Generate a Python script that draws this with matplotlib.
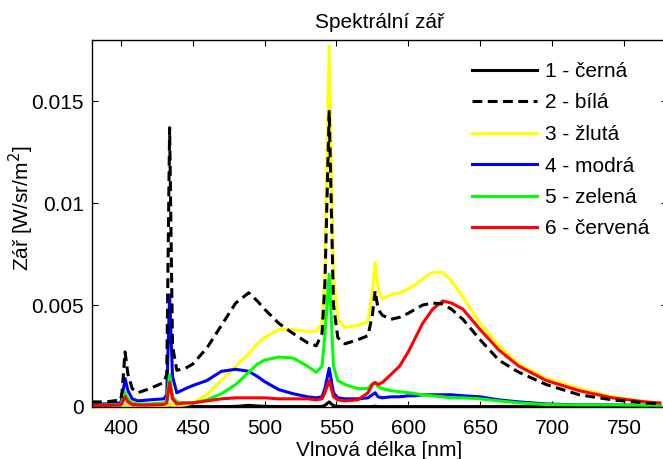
import matplotlib
matplotlib.use("Agg")
import matplotlib.pyplot as plt

plt.rcParams['font.family'] = ['Liberation Sans', 'DejaVu Sans']

SCALE = 1e-3  # values below are in units of 1e-3 W/sr/m^2

wavelength = [380, 390, 400, 401, 403, 405, 408, 412, 420, 430,
              432, 434, 436, 439, 445, 450, 460, 470, 480, 489,
              495, 500, 510, 520, 530, 536, 540, 542, 545, 548,
              551, 556, 565, 572, 575, 577, 579, 582, 588, 594,
              600, 605, 610, 617, 624, 630, 638, 650, 663, 677,
              696, 719, 742, 765, 775]

cerna = [0.02, 0.02, 0.02, 0.02, 0.05, 0.02, 0.02, 0.02, 0.02, 0.02,
         0.03, 0.12, 0.04, 0.02, 0.02, 0.02, 0.02, 0.02, 0.03, 0.08,
         0.05, 0.03, 0.02, 0.02, 0.02, 0.02, 0.03, 0.08, 0.25, 0.06,
         0.03, 0.02, 0.02, 0.02, 0.02, 0.04, 0.02, 0.02, 0.02, 0.02,
         0.02, 0.02, 0.02, 0.02, 0.02, 0.02, 0.02, 0.02, 0.02, 0.02,
         0.02, 0.02, 0.02, 0.02, 0.02]

bila = [0.25, 0.25, 0.35, 0.8, 2.7, 1.6, 0.9, 0.7, 0.9, 1.2,
        1.6, 13.7, 3.0, 1.8, 1.9, 2.1, 2.9, 4.0, 5.1, 5.6,
        5.2, 4.8, 4.1, 3.6, 3.15, 3.0, 3.6, 6.0, 14.5, 5.0,
        3.4, 3.1, 3.3, 3.5, 4.5, 5.7, 4.8, 4.5, 4.3, 4.4,
        4.6, 4.8, 5.0, 5.1, 5.05, 4.8, 4.3, 3.3, 2.3, 1.7,
        1.1, 0.6, 0.35, 0.2, 0.15]

zluta = [0.05, 0.05, 0.05, 0.05, 0.08, 0.05, 0.05, 0.05, 0.05, 0.05,
         0.05, 0.12, 0.06, 0.05, 0.1, 0.2, 0.6, 1.3, 2.0, 2.6,
         3.1, 3.4, 3.8, 3.8, 3.7, 3.7, 4.1, 6.5, 17.7, 6.5,
         4.3, 3.9, 4.0, 4.2, 5.6, 7.1, 5.8, 5.3, 5.5, 5.6,
         5.8, 6.0, 6.3, 6.6, 6.6, 6.2, 5.4, 4.1, 3.0, 2.1,
         1.4, 0.9, 0.5, 0.25, 0.15]

modra = [0.15, 0.15, 0.2, 0.5, 1.4, 0.8, 0.4, 0.3, 0.35, 0.4,
         0.6, 5.5, 1.5, 0.7, 0.9, 1.05, 1.3, 1.75, 1.85, 1.75,
         1.5, 1.25, 0.85, 0.65, 0.5, 0.45, 0.5, 0.9, 1.9, 0.7,
         0.45, 0.4, 0.4, 0.45, 0.6, 0.7, 0.5, 0.45, 0.5, 0.5,
         0.55, 0.55, 0.6, 0.6, 0.6, 0.6, 0.55, 0.5, 0.35, 0.25,
         0.15, 0.1, 0.1, 0.08, 0.08]

zelena = [0.1, 0.1, 0.12, 0.3, 0.7, 0.4, 0.2, 0.15, 0.15, 0.2,
          0.3, 1.6, 0.5, 0.25, 0.2, 0.2, 0.35, 0.65, 1.1, 1.7,
          2.1, 2.3, 2.45, 2.4, 2.0, 1.7, 2.0, 3.5, 6.5, 2.0,
          1.3, 1.1, 0.9, 0.9, 1.15, 1.2, 1.0, 0.9, 0.8, 0.75,
          0.7, 0.65, 0.6, 0.55, 0.5, 0.45, 0.45, 0.4, 0.3, 0.2,
          0.12, 0.1, 0.1, 0.08, 0.08]

cervena = [0.08, 0.08, 0.1, 0.2, 0.5, 0.25, 0.12, 0.1, 0.1, 0.12,
           0.2, 1.2, 0.4, 0.15, 0.2, 0.2, 0.3, 0.4, 0.45, 0.45,
           0.45, 0.45, 0.4, 0.4, 0.4, 0.35, 0.4, 0.7, 1.3, 0.5,
           0.35, 0.3, 0.35, 0.7, 1.1, 1.2, 1.1, 1.2, 1.6, 2.0,
           2.7, 3.4, 4.1, 4.8, 5.2, 5.1, 4.8, 3.8, 2.8, 2.0,
           1.3, 0.8, 0.45, 0.25, 0.2]

labels = ['1 - černá', '2 - bílá', '3 - žlutá', '4 - modrá', '5 - zelená', '6 - červená']
xticks = [400, 450, 500, 550, 600, 650, 700, 750]
yticks = [0, 0.005, 0.01, 0.015]
ytick_labels = ['0', '0.005', '0.01', '0.015']

W, H = 663, 459
fig = plt.figure(figsize=(W / 100, H / 100), dpi=100)
ax = fig.add_axes([92 / W, 1 - 407 / H, (667 - 92) / W, (407 - 40) / H])

def sc(v):
    return [x * SCALE for x in v]

lw = 2.2
h1, = ax.plot(wavelength, sc(cerna), color='black', lw=lw, zorder=2)
h2, = ax.plot(wavelength, sc(bila), color='black', lw=lw, ls=(0, (3.2, 1.8)), zorder=3)
h3, = ax.plot(wavelength, sc(zluta), color=(1, 1, 0), lw=lw, zorder=2)
h4, = ax.plot(wavelength, sc(modra), color=(0, 0, 1), lw=lw, zorder=2)
h5, = ax.plot(wavelength, sc(zelena), color=(0, 1, 0), lw=lw, zorder=2)
h6, = ax.plot(wavelength, sc(cervena), color=(1, 0, 0), lw=lw, zorder=2)

FS = 15
ax.set_xlim(380, 780)
ax.set_ylim(0, 0.018)
ax.set_xticks(xticks)
ax.set_yticks(yticks)
ax.set_yticklabels(ytick_labels)
ax.tick_params(direction='in', top=True, right=True, length=4, width=0.8,
               labelsize=FS)
ax.tick_params(axis='x', pad=9)
ax.tick_params(axis='y', pad=6)
for s in ax.spines.values():
    s.set_linewidth(1.0)

ax.set_title('Spektrální zář', fontsize=FS, pad=9)
ax.set_xlabel('Vlnová délka [nm]', fontsize=FS, labelpad=2)
ax.set_ylabel('Zář [W/sr/m$^2$]', fontsize=FS)
ax.yaxis.set_label_coords(-0.098, 0.54)

ax.legend([h1, h2, h3, h4, h5, h6], labels, loc='upper left',
          bbox_to_anchor=(472 / W, 1 - 62 / H), bbox_transform=fig.transFigure,
          frameon=False, fontsize=FS, handlelength=3.1, handletextpad=0.4,
          borderpad=0, borderaxespad=0, labelspacing=0.6)

fig.savefig('out.png', dpi=100)
